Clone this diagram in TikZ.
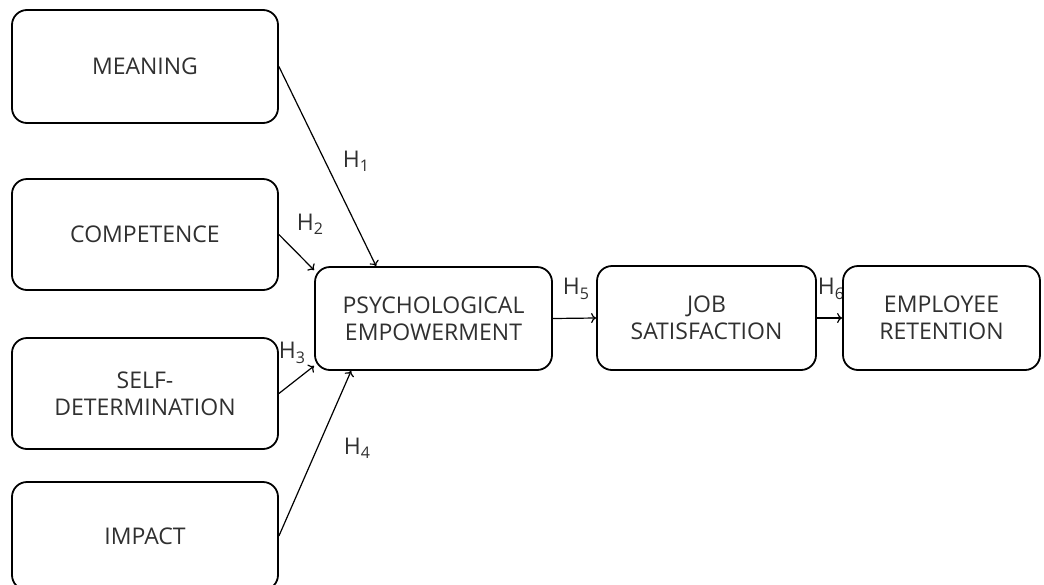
\documentclass[tikz,border=0pt]{standalone}
\usepackage{fontspec}
\setmainfont{Open Sans}
\usetikzlibrary{arrows.meta,calc}
\definecolor{txt}{HTML}{303030}
\tikzset{
  box/.style={draw=black, line width=1.8pt, rounded corners=15pt, fill=white,
    inner sep=0pt, align=center, text=txt,
    font=\fontsize{23}{27}\selectfont},
  link/.style={line width=1.2pt, -{To[length=5pt,width=10pt]}},
  hlab/.style={text=txt, inner sep=0pt, font=\fontsize{23}{26}\selectfont}
}
\newcommand{\hsub}[1]{H\raisebox{-0.35ex}{\fontsize{16}{18}\selectfont #1}}
\begin{document}
\begin{tikzpicture}[x=1pt,y=-1pt]
\useasboundingbox (0,0) rectangle (1044,584);
% labels
\node[hlab] (l1) at (356,161) {\hsub{1}};
\node[hlab] (l2) at (310,224) {\hsub{2}};
\node[hlab] (l3) at (292,353) {\hsub{3}};
\node[hlab] (l4) at (357,448) {\hsub{4}};
\node[hlab] (l5) at (576,289) {\hsub{5}};
\node[hlab] (l6) at (831,289) {\hsub{6}};
% boxes
\node[box, minimum width=266pt, minimum height=113pt] (M) at (145,66.5) {MEANING};
\node[box, minimum width=266pt, minimum height=111pt] (C) at (145,234.5) {COMPETENCE};
\node[box, minimum width=266pt, minimum height=111pt] (S) at (145,393.5) {SELF-\\DETERMINATION};
\node[box, minimum width=266pt, minimum height=108pt] (I) at (145,536) {IMPACT};
\node[box, minimum width=237pt, minimum height=103pt] (P) at (433.5,318.5) {PSYCHOLOGICAL\\EMPOWERMENT};
\node[box, minimum width=219pt, minimum height=104pt] (J) at (706.5,318) {JOB\\SATISFACTION};
\node[box, minimum width=197pt, minimum height=104pt] (E) at (941.5,318) {EMPLOYEE\\RETENTION};
% connectors
\draw[link] (M.east) -- ($(P.north west)+(62,0)$);
\draw[link] (C.east) -- ($(P.north west)+(0,4)$);
\draw[link] (S.east) -- ($(P.south west)+(0,-5)$);
\draw[link] (I.east) -- ($(P.south west)+(37,0)$);
\draw[link] (P.east) -- (J.west);
\draw[link] (J.east) -- (E.west);
\end{tikzpicture}
\end{document}
